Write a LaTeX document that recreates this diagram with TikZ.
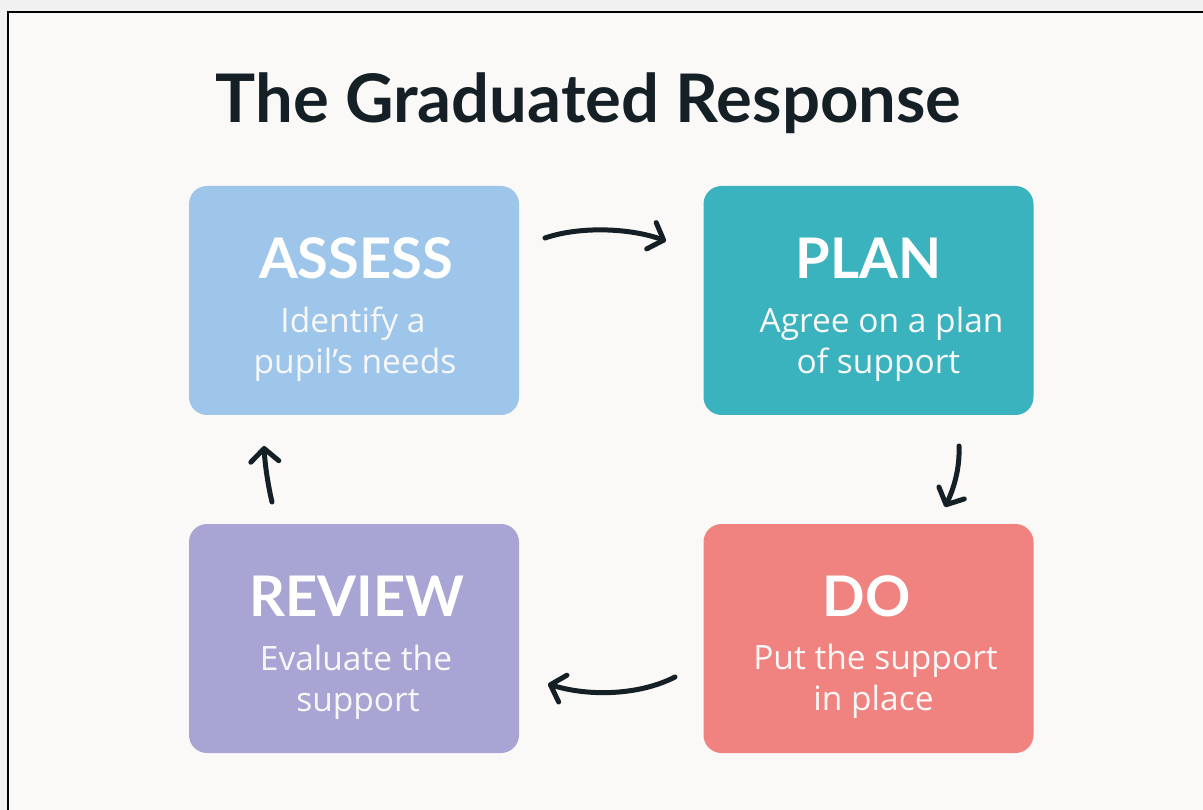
\documentclass[tikz,border=0pt]{standalone}
\usepackage{fontspec}
\setmainfont{Lato}
\newfontfamily\subfont[Ligatures=NoCommon]{Open Sans}
\usetikzlibrary{arrows.meta,calc}
\definecolor{pagebg}{HTML}{F1F1F1}
\definecolor{framebg}{HTML}{FBF9F7}
\definecolor{inkc}{HTML}{152026}
\definecolor{assessc}{HTML}{9DC6EA}
\definecolor{planc}{HTML}{3AB3BE}
\definecolor{reviewc}{HTML}{A8A4D4}
\definecolor{doc}{HTML}{F0827F}
\definecolor{subc}{HTML}{F7F7F7}
\tikzset{
  stagebox/.style={rounded corners=18pt, minimum width=330pt, minimum height=229pt, inner sep=0pt, draw=none},
  stagetitle/.style={anchor=base, text=white, font=\fontsize{56}{60}\selectfont\bfseries, inner sep=0pt},
  stagesub/.style={anchor=base, text=subc, font=\subfont\fontsize{33.5}{38}\selectfont, inner sep=0pt},
  flow/.style={draw=inkc, line width=5pt, line cap=round, line join=round,
    -{Straight Barb[length=13pt, width=28pt, round]}}
}
\begin{document}
\begin{tikzpicture}[x=1pt,y=-1pt]
\useasboundingbox (0,0) rectangle (1203,810);
\fill[pagebg] (0,0) rectangle (1203,810);
\draw[fill=framebg, line width=2pt, draw=black] (8,12) rectangle (1230,840);
\node[anchor=base, text=inkc, inner sep=0pt, font=\fontsize{67}{72}\selectfont\bfseries] (title) at (588.5,123) {The Graduated Response};
% boxes
\node[stagebox, fill=assessc] (assess) at (354,300.5) {};
\node[stagebox, fill=planc] (plan) at (868.5,300.5) {};
\node[stagebox, fill=reviewc] (review) at (354,638.5) {};
\node[stagebox, fill=doc] (do) at (868.5,638.5) {};
% texts
\node[stagetitle] (assessT) at ($(assess.north)+(2,93)$) {ASSESS};
\node[stagesub] (assessA) at ($(assess.north)+(-1,147)$) {Identify a};
\node[stagesub] (assessB) at ($(assess.north)+(1,188)$) {pupil’s needs};
\node[stagetitle] (planT) at ($(plan.north)+(0,93)$) {PLAN};
\node[stagesub] (planA) at ($(plan.north)+(13,147)$) {Agree on a plan};
\node[stagesub] (planB) at ($(plan.north)+(10,188)$) {of support};
\node[stagetitle] (reviewT) at ($(review.north)+(3,93)$) {REVIEW};
\node[stagesub] (reviewA) at ($(review.north)+(2,147)$) {Evaluate the};
\node[stagesub] (reviewB) at ($(review.north)+(4,188)$) {support};
\node[stagetitle] (doT) at ($(do.north)+(-2,93)$) {DO};
\node[stagesub] (doA) at ($(do.north)+(7,146)$) {Put the support};
\node[stagesub] (doB) at ($(do.north)+(5,187)$) {in place};
% arrow end points
\coordinate (a1s) at (545,238); \coordinate (a1e) at (666,241);
\coordinate (a2s) at (959,446); \coordinate (a2e) at (945,507);
\coordinate (a3s) at (675,677); \coordinate (a3e) at (548,684);
\coordinate (a4s) at (272,502); \coordinate (a4e) at (264,446);
\draw[flow] (a1s) .. controls (580,226) and (630,228) .. (a1e);
\draw[flow] (a2s) .. controls (960,470) and (953,490) .. (a2e);
\draw[flow] (a3s) .. controls (640,695) and (590,697) .. (a3e);
\draw[flow] (a4s) .. controls (268,485) and (265,465) .. (a4e);
\end{tikzpicture}
\end{document}
